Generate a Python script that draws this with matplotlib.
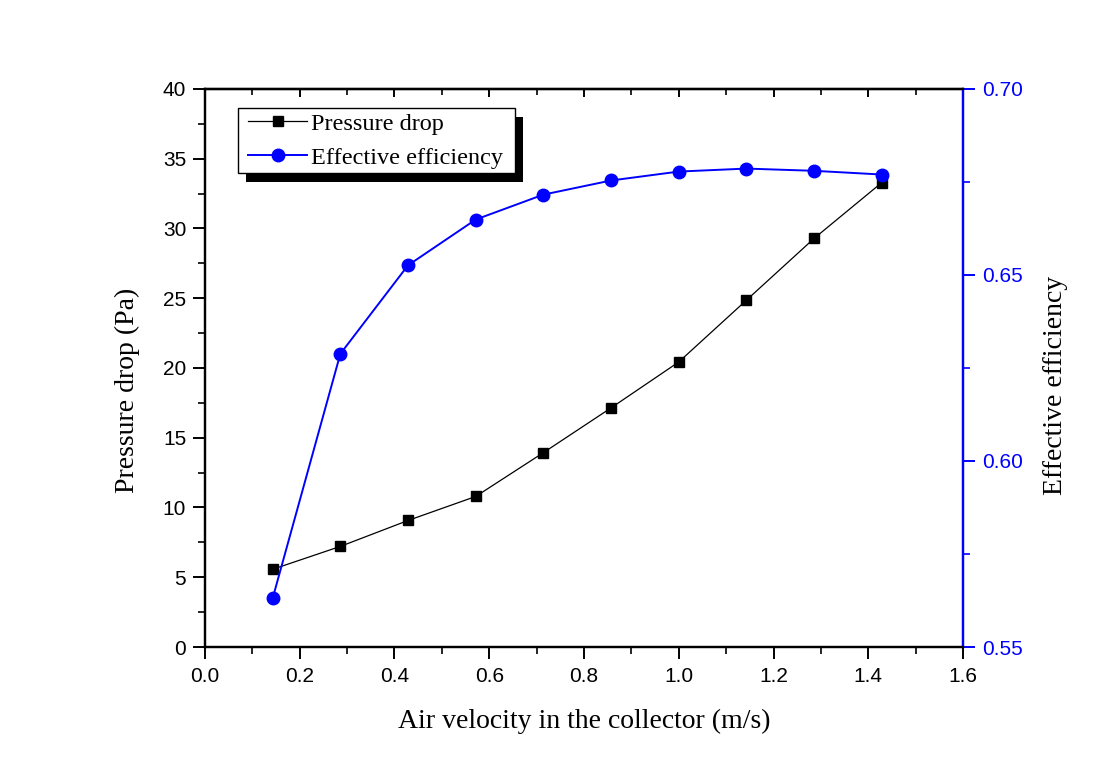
import matplotlib
matplotlib.use("Agg")
import matplotlib.pyplot as plt
from matplotlib.ticker import MultipleLocator
from matplotlib.patches import Rectangle

velocity = [1/7, 2/7, 3/7, 4/7, 5/7, 6/7, 1.0, 8/7, 9/7, 10/7]
pressure_drop = [5.57, 7.21, 9.07, 10.79, 13.93, 17.14, 20.43, 24.86, 29.29, 33.29]
efficiency = [0.5631, 0.6288, 0.6526, 0.6649, 0.6716, 0.6754, 0.6778, 0.6786, 0.6780, 0.6770]

serif = ["Liberation Serif", "DejaVu Serif"]
sans = ["Liberation Sans", "DejaVu Sans"]
blue = "#0000ff"

fig = plt.figure(figsize=(11.05, 7.73), dpi=100)
ax = fig.add_axes([0.1855, 0.163, 0.686, 0.7219])
ax2 = ax.twinx()

ln1, = ax.plot(velocity, pressure_drop, color="black", lw=0.9, marker="s",
               markersize=7.5, markerfacecolor="black", markeredgecolor="black",
               label="Pressure drop", zorder=3)
ln2, = ax2.plot(velocity, efficiency, color=blue, lw=1.4, marker="o",
                markersize=9, markerfacecolor=blue, markeredgecolor=blue,
                label="Effective efficiency", zorder=3)

ax.set_xlim(0.0, 1.6)
ax.set_ylim(0, 40)
ax2.set_ylim(0.55, 0.70)

ax.xaxis.set_major_locator(MultipleLocator(0.2))
ax.xaxis.set_minor_locator(MultipleLocator(0.1))
ax.yaxis.set_major_locator(MultipleLocator(5))
ax.yaxis.set_minor_locator(MultipleLocator(2.5))
ax2.yaxis.set_major_locator(MultipleLocator(0.05))
ax2.yaxis.set_minor_locator(MultipleLocator(0.025))

ax.xaxis.set_major_formatter(plt.FuncFormatter(lambda v, p: f"{v:.1f}"))
ax2.yaxis.set_major_formatter(plt.FuncFormatter(lambda v, p: f"{v:.2f}"))

for a in (ax, ax2):
    for s in a.spines.values():
        s.set_linewidth(1.6)
ax2.spines["right"].set_color(blue)

ax.tick_params(axis="both", which="major", direction="out", length=8.5, width=1.4,
               labelsize=15, pad=5, top=False, right=False)
ax.tick_params(axis="both", which="minor", direction="out", length=4.7, width=1.2,
               top=False, right=False)
ax.tick_params(axis="x", which="major", pad=6)
ax2.tick_params(axis="y", which="major", direction="out", length=8.5, width=1.4,
                labelsize=15, pad=5, colors=blue)
ax2.tick_params(axis="y", which="minor", direction="out", length=4.7, width=1.2,
                colors=blue)

# top axis: inward ticks, no labels
secx = ax.secondary_xaxis("top")
secx.xaxis.set_major_locator(MultipleLocator(0.2))
secx.xaxis.set_minor_locator(MultipleLocator(0.1))
secx.tick_params(axis="x", which="major", direction="in", length=6, width=1.4,
                 labeltop=False)
secx.tick_params(axis="x", which="minor", direction="in", length=4, width=1.2)
secx.spines["top"].set_linewidth(1.6)

for lab in ax.get_xticklabels() + ax.get_yticklabels() + ax2.get_yticklabels():
    lab.set_family(sans)

ax.set_xlabel("Air velocity in the collector (m/s)", family=serif, fontsize=20,
              labelpad=16)
ax.set_ylabel("Pressure drop (Pa)", family=serif, fontsize=20)
ax2.set_ylabel("Effective efficiency", family=serif, fontsize=20)
ax.yaxis.set_label_coords(-0.0858, 0.46)
ax2.yaxis.set_label_coords(1.1055, 0.468)

leg = ax2.legend(handles=[ln1, ln2], loc="upper left",
                 bbox_to_anchor=(0.0501, 0.966), borderaxespad=0,
                 fancybox=False, frameon=False,
                 prop={"family": serif, "size": 17.5}, handlelength=2.45,
                 handletextpad=0.14, borderpad=0.2, labelspacing=0.48)
leg.set_zorder(10)

# legend box with a solid drop shadow
fig.canvas.draw()
bb = leg.get_window_extent()
x0, y0 = bb.x0 - 5, bb.y0
w, h = bb.width + 12, bb.height
shadow = Rectangle((x0 + 8, y0 - 9), w, h, transform=None,
                   facecolor="black", edgecolor="none", zorder=8)
frame = Rectangle((x0, y0), w, h, transform=None, facecolor="white",
                  edgecolor="black", linewidth=1.0, zorder=9)
ax2.add_artist(shadow)
ax2.add_artist(frame)

fig.savefig("out.png", dpi=100)
